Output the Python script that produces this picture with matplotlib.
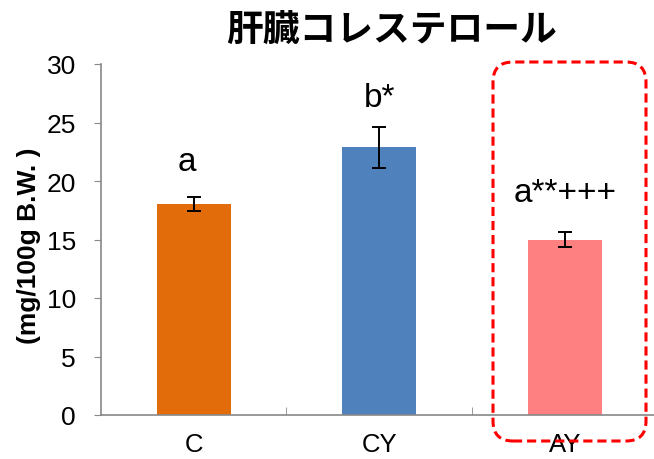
import matplotlib
matplotlib.use("Agg")
import matplotlib.pyplot as plt
from matplotlib.patches import FancyBboxPatch
from matplotlib.transforms import IdentityTransform

categories = ["C", "CY", "AY"]
values = [18.0, 22.9, 15.0]
errors = [0.6, 1.75, 0.6]
colors = ["#E36C0A", "#4F81BD", "#FF8080"]
sig_labels = ["a", "b*", "a**+++"]
sig_heights = [21.7, 27.1, 19.0]
yticks = [0, 5, 10, 15, 20, 25, 30]

plt.rcParams['font.family'] = ['Liberation Sans', 'Noto Sans CJK JP', 'DejaVu Sans']

fig = plt.figure(figsize=(6.54, 4.6), dpi=100)
ax = fig.add_axes([101 / 654, 44 / 460, 556.5 / 654, 351 / 460])

x = range(len(categories))
ax.bar(x, values, width=0.4, color=colors, zorder=2)
ax.errorbar(x, values, yerr=errors, fmt="none", ecolor="black",
            elinewidth=1.4, capsize=5, capthick=1.4, zorder=3)

# significance letters above the bars (first one sits a bit left in the original)
for i, (lab, h) in enumerate(zip(sig_labels, sig_heights)):
    ax.text(i - (0.035 if i == 0 else 0), h, lab, ha="center", va="center", fontsize=24)

ax.set_xlim(-0.5, 2.5)
ax.set_ylim(0, 30)
ax.set_yticks(yticks)
ax.set_xticks(list(x))
ax.set_xticklabels(categories, fontsize=18.5)
ax.set_xticks([0.5, 1.5], minor=True)
ax.tick_params(axis="x", which="major", length=0, pad=12)
ax.tick_params(axis="x", which="minor", length=6, direction="in", color="#888888")
ax.tick_params(axis="y", labelsize=19, length=5, color="#888888", pad=13)

for s in ["top", "right"]:
    ax.spines[s].set_visible(False)
for s in ["left", "bottom"]:
    ax.spines[s].set_color("#888888")
    ax.spines[s].set_linewidth(1.2)

ax.set_ylabel("(mg/100g B.W. )", fontsize=19, fontweight="bold")
ax.yaxis.set_label_coords(-0.108, 0.485)

fig.text(392 / 654, 1 - 30 / 460, "肝臓コレステロール", ha="center", va="center",
         fontsize=26.5, fontweight="bold",
         family=["Noto Sans CJK JP", "DejaVu Sans"])

box = FancyBboxPatch((493, 18), 153, 379, boxstyle="round,pad=0,rounding_size=20",
                     transform=IdentityTransform(), fill=False, edgecolor="#FF0000",
                     linestyle=(0, (3, 1.6)), linewidth=2.2, zorder=5)
fig.patches.append(box)

fig.savefig("out.png", dpi=100)
